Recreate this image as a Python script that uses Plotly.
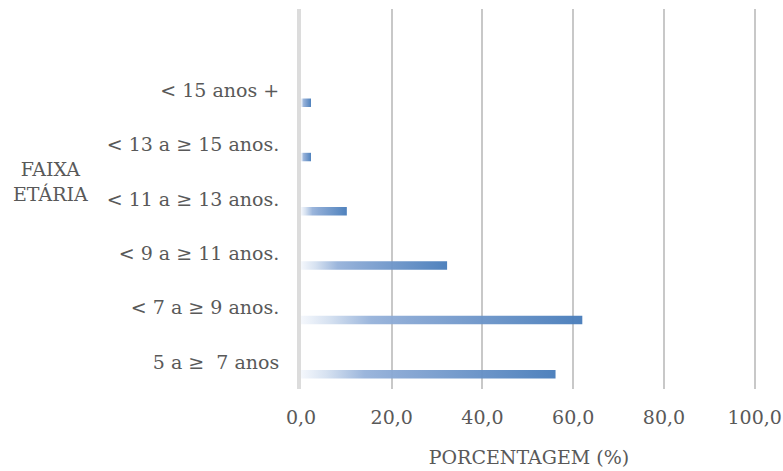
import plotly.graph_objects as go

categories = ["5 a ≥\u00a0 7 anos", "< 7 a ≥ 9 anos.", "< 9 a ≥ 11 anos.",
              "< 11 a ≥ 13 anos.", "< 13 a ≥ 15 anos.", "< 15 anos +"]
values = [56.1, 62.0, 32.2, 10.1, 2.2, 2.2]
x_ticks = [0, 20, 40, 60, 80, 100]

FONT = "DejaVu Serif"
TXT = "#595959"
BAR_OFFSET = -0.227   # bar sits below the category centre (clustered-bar slot)
BAR_HALF = 0.078

grad = [[0.0, "rgba(244,247,252,0.95)"], [0.1, "rgba(212,224,240,0.95)"],
        [0.25, "rgba(150,178,218,0.95)"], [0.38, "rgba(134,166,211,0.95)"],
        [1.0, "rgba(74,126,187,0.97)"]]

fig = go.Figure()
for i, v in enumerate(values):
    yc = i + BAR_OFFSET
    fig.add_trace(go.Scatter(
        x=[0, v, v, 0, 0],
        y=[yc - BAR_HALF, yc - BAR_HALF, yc + BAR_HALF, yc + BAR_HALF, yc - BAR_HALF],
        mode="none", fill="toself",
        fillgradient=dict(type="horizontal", colorscale=grad),
        showlegend=False, hoverinfo="skip"))

W, H = 783, 471
ML, MR, MT, MB = 301, 26, 9, 82

fig.update_layout(
    width=W, height=H, autosize=False,
    margin=dict(l=ML, r=MR, t=MT, b=MB, autoexpand=False),
    plot_bgcolor="white", paper_bgcolor="white",
    separators=",.",
    font=dict(family=FONT, size=19, color=TXT),
    xaxis=dict(range=[0, 100.5], tickvals=x_ticks, tickformat=".1f",
               showgrid=True, gridcolor="#c8c8c8", gridwidth=2,
               zeroline=False, showline=False, ticks="", automargin=False,
               ticklabelstandoff=15, ticklabeloverflow="allow",
               title=dict(text="PORCENTAGEM (%)", standoff=23,
                          font=dict(family=FONT, size=19, color=TXT))),
    yaxis=dict(range=[-0.5, 6.5], tickvals=list(range(len(categories))),
               ticktext=categories, showgrid=False, zeroline=False,
               showline=True, linecolor="#dcdcdc", linewidth=4,
               ticks="", ticklabelstandoff=14, automargin=False),
)
pw = W - ML - MR
ph = H - MT - MB
# target pixel centre: x=50, y=181
fig.add_annotation(text="FAIXA<br>ETÁRIA", xref="paper", yref="paper",
                   x=(50 - ML) / pw, y=((H - MB) - 181) / ph,
                   xanchor="center", yanchor="middle", showarrow=False,
                   font=dict(family=FONT, size=19, color=TXT))

fig.write_html("out.html", config={"displayModeBar": False},
               post_script="document.body.style.margin='0';document.body.style.overflow='hidden';")
